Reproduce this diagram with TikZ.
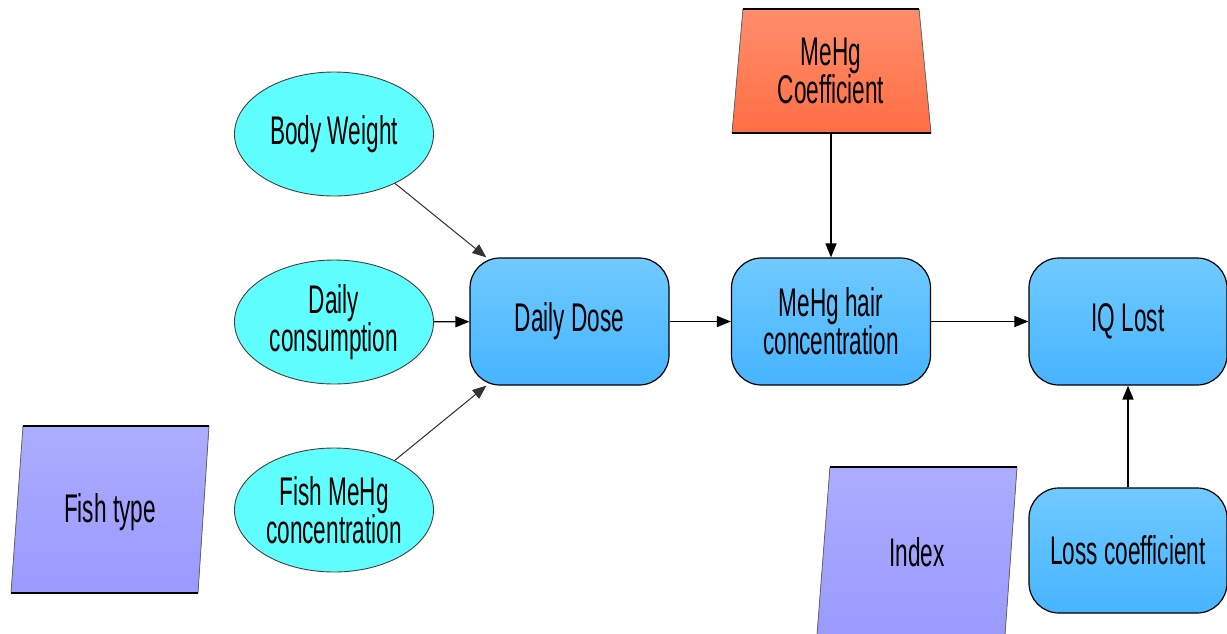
\documentclass[tikz,border=0pt]{standalone}
\usepackage{fontspec}
\setmainfont{Liberation Sans}[FakeStretch=0.565]
\usetikzlibrary{shapes.geometric,arrows.meta}
\definecolor{cyanfill}{RGB}{96,255,255}
\definecolor{boxtop}{RGB}{112,202,255}
\definecolor{boxbot}{RGB}{70,180,255}
\definecolor{partop}{RGB}{172,172,255}
\definecolor{parbot}{RGB}{154,154,255}
\definecolor{trtop}{RGB}{255,142,108}
\definecolor{trbot}{RGB}{255,110,68}
\tikzset{
  chance/.style={ellipse, draw=black!75, line width=0.9pt, fill=cyanfill,
    minimum width=199pt, minimum height=124pt, inner sep=0pt, align=center},
  varbox/.style={rectangle, rounded corners=30pt, draw=black, line width=1.2pt,
    top color=boxtop, bottom color=boxbot, minimum width=199pt,
    minimum height=127pt, inner sep=0pt, align=center},
  parshade/.style={top color=partop, bottom color=parbot},
  trshade/.style={top color=trtop, bottom color=trbot},
  sideline/.style={draw=black!60, line width=0.8pt},
  edgeline/.style={draw=black, line width=1.6pt},
  arr/.style={-{Triangle[length=14pt,width=11pt]}, line width=1.4pt},
  darr/.style={-{Triangle[length=14pt,width=11pt]}, line width=1pt, draw=black!80, fill=black},
  lbl/.style={inner sep=0pt, align=center}
}
\begin{document}
\begin{tikzpicture}[x=1pt,y=-1pt,font=\fontsize{40}{38}\selectfont]
\useasboundingbox (0,0) rectangle (1227,633);
\clip (0,0) rectangle (1227,633);
% Fish type parallelogram
\fill[parshade] (23,426) -- (209,426) -- (198,593) -- (11,593) -- cycle;
\draw[sideline] (209,426) -- (198,593) (23,426) -- (11,593);
\draw[edgeline] (23,426) -- (209,426) (11,593) -- (198,593);
\node[lbl] (ft) at (110,512) {Fish type};
% Index parallelogram
\fill[parshade] (830,467) -- (1017,467) -- (1005,635) -- (817,635) -- cycle;
\draw[sideline] (1017,467) -- (1005,635) (830,467) -- (817,635);
\draw[edgeline] (830,467) -- (1017,467);
\node[lbl] (ix) at (917,552) {Index};
% MeHg Coefficient trapezoid
\fill[trshade] (743,9) -- (919,9) -- (931,133) -- (732,133) -- cycle;
\draw[sideline] (919,9) -- (931,133) (743,9) -- (732,133);
\draw[edgeline] (743,9) -- (919,9) (732,133) -- (931,133);
\node[lbl, minimum width=199pt, minimum height=124pt] (mc) at (831,71) {MeHg\\Coefficient};
% Chance ellipses
\node[chance] (bw) at (334,134) {Body Weight};
\node[chance] (dc) at (334,322) {Daily\\consumption};
\node[chance] (fm) at (334,510) {Fish MeHg\\concentration};
% Variable boxes
\node[varbox] (dd) at (569.5,321.5) {Daily Dose};
\node[varbox] (mh) at (831,321.5) {MeHg hair\\concentration};
\node[varbox, minimum width=198pt] (iq) at (1128,321.5) {IQ Lost};
\node[varbox, minimum width=198pt, minimum height=125pt] (lc) at (1128,550.5) {Loss coefficient};
% Connectors
\draw[darr] (bw) -- ([xshift=17pt]dd.north west);
\draw[darr] (fm) -- ([xshift=17pt]dd.south west);
\draw[arr] (dc) -- (dd);
\draw[arr] (dd) -- (mh);
\draw[arr] (mh) -- (iq);
\draw[arr] (mc.south) -- (mh.north);
\draw[arr] (lc) -- (iq);
\end{tikzpicture}
\end{document}
